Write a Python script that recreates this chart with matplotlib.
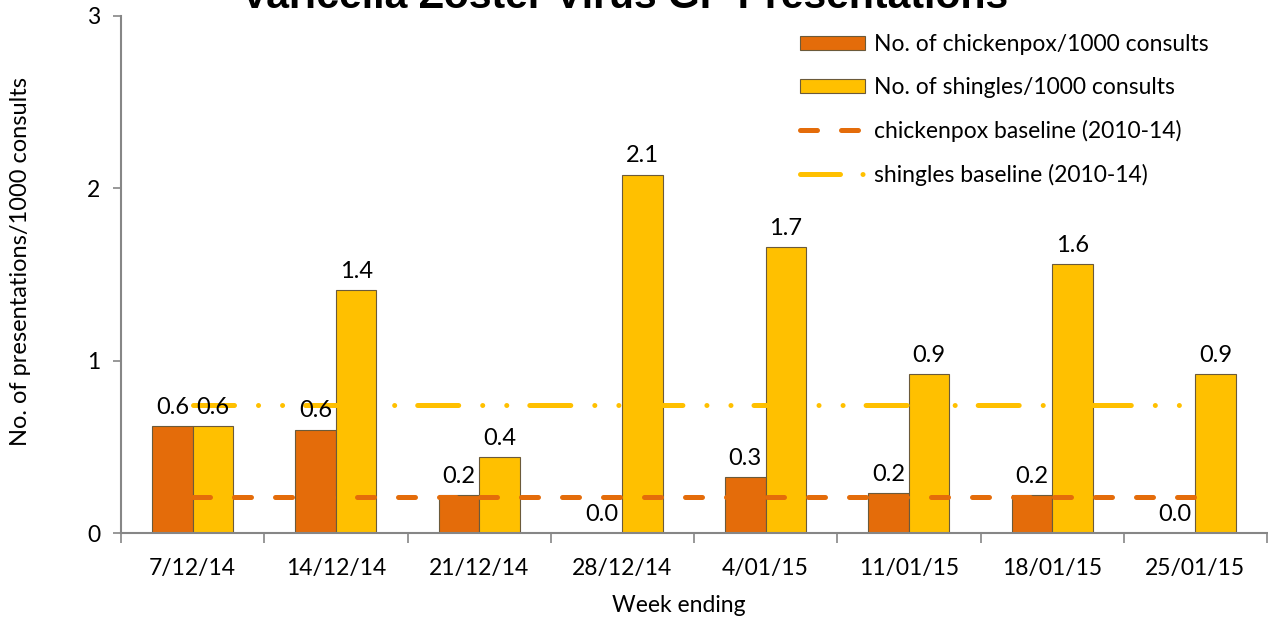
import numpy as np
import matplotlib
matplotlib.use('Agg')
import matplotlib.pyplot as plt
from matplotlib.patches import Patch
from matplotlib.lines import Line2D

plt.rcParams['font.family'] = ['Lato', 'DejaVu Sans']

# data
weeks = ['7/12/14', '14/12/14', '21/12/14', '28/12/14', '4/01/15', '11/01/15', '18/01/15', '25/01/15']
chickenpox = [0.62, 0.60, 0.22, 0.0, 0.325, 0.23, 0.22, 0.0]
shingles = [0.62, 1.41, 0.44, 2.08, 1.66, 0.92, 1.56, 0.92]
chickenpox_baseline = [0.21] * 8
shingles_baseline = [0.74] * 8

orange = '#E46C0A'
gold = '#FFC000'
grey = '#868686'
edge = '#6b5a3a'
fs = 16.5

fig = plt.figure(figsize=(12.68, 6.21), dpi=100)
ax = fig.add_axes([121 / 1268, 1 - 533 / 621, 1146 / 1268, 517 / 621])

x = np.arange(len(weeks))
w = 0.283
b1 = ax.bar(x - w / 2, chickenpox, w, color=orange, edgecolor=edge, linewidth=0.8, zorder=2)
b2 = ax.bar(x + w / 2, shingles, w, color=gold, edgecolor=edge, linewidth=0.8, zorder=2)

l1, = ax.plot(x, chickenpox_baseline, color=orange, lw=3.6, dash_capstyle='round', zorder=3)
l1.set_dashes([3.4, 4.8])
l2, = ax.plot(x, shingles_baseline, color=gold, lw=3.6, dash_capstyle='round', zorder=3)
l2.set_dashes([8.2, 4.8, 0.01, 4.8, 0.01, 4.6])

# value labels
for bars, vals in ((b1, chickenpox), (b2, shingles)):
    for bar, v in zip(bars, vals):
        ax.annotate(f'{v:.1f}', (bar.get_x() + bar.get_width() / 2, v),
                    xytext=(0, 6), textcoords='offset points',
                    ha='center', va='bottom', fontsize=17, zorder=4)

ax.set_xlim(-0.5, len(weeks) - 0.5)
ax.set_ylim(0, 3)
ax.set_yticks([0, 1, 2, 3])
ax.set_xticks(x)
ax.set_xticklabels(weeks)
ax.set_xticks(np.arange(-0.5, len(weeks)), minor=True)
ax.tick_params(axis='x', which='major', length=0, pad=18, labelsize=fs)
ax.tick_params(axis='x', which='minor', length=7, color=grey, width=1.2)
ax.tick_params(axis='y', length=6, color=grey, width=1.2, pad=9, labelsize=fs)

for s in ('top', 'right'):
    ax.spines[s].set_visible(False)
for s in ('left', 'bottom'):
    ax.spines[s].set_color(grey)
    ax.spines[s].set_linewidth(1.5)

ax.set_ylabel('No. of presentations/1000 consults', fontsize=17, va='center')
ax.yaxis.set_label_coords(-0.088, (533 - 262) / 517)
ax.set_xlabel('Week ending', fontsize=fs, va='center')
ax.xaxis.set_label_coords(0.487, -0.141)

handles = [
    Patch(facecolor=orange, edgecolor=edge, linewidth=0.8),
    Patch(facecolor=gold, edgecolor=edge, linewidth=0.8),
    Line2D([], [], color=orange, lw=3.6, dashes=[3.4, 4.8], dash_capstyle='round'),
    Line2D([], [], color=gold, lw=3.6, dashes=[8.0, 4.5, 0.01, 10], dash_capstyle='round'),
]
labels = ['No. of chickenpox/1000 consults', 'No. of shingles/1000 consults',
          'chickenpox baseline (2010-14)', 'shingles baseline (2010-14)']
fig.legend(handles, labels, loc='upper left', bbox_to_anchor=(800 / 1268, 1 - 34 / 621),
           frameon=False, fontsize=fs, handlelength=2.85, handleheight=0.55,
           handletextpad=0.4, labelspacing=0.95, borderaxespad=0, borderpad=0)

fig.text(625 / 1268, 1 - 8 / 621, 'Varicella Zoster Virus GP Presentations',
         ha='center', va='baseline', fontsize=29.5, fontweight='bold',
         family='Liberation Sans')

fig.savefig('out.png', dpi=100)
